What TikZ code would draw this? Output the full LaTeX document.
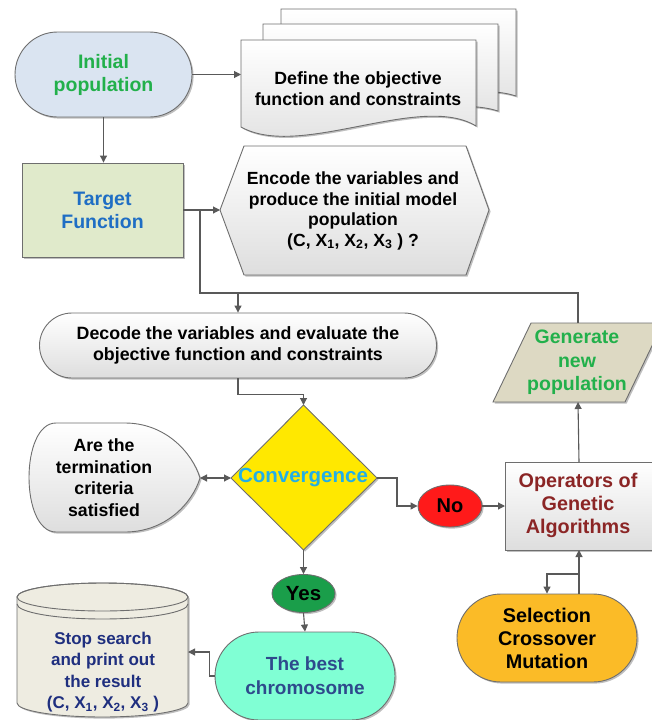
\documentclass[tikz,border=0pt]{standalone}
\usepackage{fontspec}
\setmainfont{Liberation Sans}
\usetikzlibrary{shapes.geometric,shapes.misc,arrows.meta,shadows,calc}
\definecolor{lnc}{HTML}{595959}
\definecolor{bdc}{HTML}{6E6E6E}
\definecolor{initblue}{HTML}{DAE4F1}
\definecolor{txgreen}{HTML}{22B04B}
\definecolor{tgtgreen}{HTML}{E0EACB}
\definecolor{txblue}{HTML}{1F6EC4}
\definecolor{genfill}{HTML}{DDD9C3}
\definecolor{diayel}{HTML}{FFE800}
\definecolor{txcyan}{HTML}{22AEE6}
\definecolor{nored}{HTML}{FF1A1A}
\definecolor{txred}{HTML}{8B2525}
\definecolor{yesgreen}{HTML}{1A9E4A}
\definecolor{bestaq}{HTML}{80FFD4}
\definecolor{txslate}{HTML}{2E4A8C}
\definecolor{cylfill}{HTML}{EEECE1}
\definecolor{txnavy}{HTML}{1F2F7F}
\definecolor{selor}{HTML}{FBBB27}
\newcommand\ftx{\fontsize{17.7}{21.5}\selectfont\bfseries}
\newcommand\fbig{\fontsize{19.5}{23}\selectfont\bfseries}
\tikzset{
  shp/.style={draw=bdc, line width=0.9pt},
  shd/.style={drop shadow={shadow xshift=1.6pt,shadow yshift=-1.6pt,opacity=0.25,fill=black}},
  grad/.style={top color=white, bottom color=black!13},
  lbl/.style={font=\ftx, align=center, inner sep=0pt},
  conn/.style={draw=lnc, line width=1.1pt, -{Triangle[length=7pt,width=7pt]}},
  plain/.style={draw=lnc, line width=1.1pt},
  dconn/.style={draw=lnc, line width=1.1pt, {Triangle[length=7pt,width=7pt]}-{Triangle[length=7pt,width=7pt]}}
}
\begin{document}
\begin{tikzpicture}[x=1pt,y=-1pt]
\useasboundingbox (0,0) rectangle (652,720);
% ---------- Initial population
\node[shp, shd, rounded rectangle, minimum width=177pt, minimum height=85pt, fill=initblue, text=txgreen, lbl, font=\fbig] (init) at (103.5,74.5) {Initial\\population};
% ---------- Document stack
\path[shp, shd, grad] (281,9) -- (516,9) -- (516,96) .. controls (460,78) and (340,118) .. (281,96) -- cycle;
\path[shp, shd, grad] (263,24) -- (498,24) -- (498,111) .. controls (442,93) and (322,133) .. (263,111) -- cycle;
\path[shp, shd, grad] (241,40) -- (476,40) -- (476,126) .. controls (420,92) and (300,160) .. (241,127) -- cycle;
\coordinate (docL) at (241,74.5);
\node[lbl, text=black] (doc) at (358,88.5) {Define the objective\\function and constraints};
% ---------- Target function
\node[shp, shd, rectangle, minimum width=161pt, minimum height=94pt, fill=tgtgreen, text=txblue, lbl, font=\fbig] (target) at (102.5,210) {Target\\Function};
% ---------- Hexagon
\path[shp, shd, grad] (220,210) -- (244,146) -- (466,146) -- (489,210) -- (466,275) -- (244,275) -- cycle;
\coordinate (hexL) at (220,210);
\node[lbl, text=black, font=\fontsize{17.6}{20.5}\selectfont\bfseries] (hex) at (353,211) {Encode the variables and\\produce the initial model\\population\\(C, X\textsubscript{1}, X\textsubscript{2}, X\textsubscript{3} ) ?};
% ---------- Decode
\node[shp, shd, rounded rectangle, minimum width=397pt, minimum height=65pt, grad, lbl, text=black, font=\fontsize{17.8}{21.5}\selectfont\bfseries] (dec) at (238,345.5) {Decode the variables and evaluate the\\objective function and constraints};
% ---------- Generate new population
\path[shp, shd, fill=genfill] (531,323) -- (663,323) -- (625,402) -- (493,402) -- cycle;
\coordinate (genT) at (578,323);
\coordinate (genB) at (578,402);
\node[lbl, text=txgreen, font=\fontsize{19.5}{23.5}\selectfont\bfseries] (gen) at (577,362.5) {Generate\\new\\population};
% ---------- Convergence diamond
\path[shp, shd, fill=diayel] (303.5,405) -- (377,478) -- (303.5,550) -- (231,478) -- cycle;
\coordinate (diaT) at (303.5,405);
\coordinate (diaL) at (231,478);
\coordinate (diaR) at (377,478);
\coordinate (diaB) at (303.5,550);
\node[lbl, text=txcyan, font=\fontsize{20.5}{24}\selectfont\bfseries] (conv) at (303,478) {Convergence};
% ---------- Termination criteria
\path[shp, shd, grad] (56,423) -- (125,423) .. controls (165,423) and (192,452) .. (200,478) .. controls (192,504) and (165,532) .. (125,532) -- (56,532) .. controls (20,532) and (20,423) .. (56,423) -- cycle;
\coordinate (termR) at (200,478);
\node[lbl, text=black] (term) at (104,477.5) {Are the\\termination\\criteria\\satisfied};
% ---------- No
\node[shp, shd, ellipse, minimum width=64pt, minimum height=42pt, fill=nored, lbl, text=black, font=\fontsize{20}{24}\selectfont\bfseries] (no) at (450,506) {No};
% ---------- Operators
\path[shp, shd, grad] (505,462) rectangle (662,550);
\coordinate (opsW) at (505,506);
\coordinate (opsT) at (579,462);
\coordinate (opsB) at (579,550);
\node[lbl, text=txred, font=\fontsize{19.8}{23}\selectfont\bfseries] (ops) at (578,505) {Operators of\\Genetic\\Algorithms};
% ---------- Yes
\node[shp, shd, ellipse, minimum width=63pt, minimum height=38pt, fill=yesgreen, lbl, text=black, font=\fontsize{20.5}{24}\selectfont\bfseries] (yes) at (303.5,593.5) {Yes};
% ---------- The best chromosome
\node[shp, shd, rounded rectangle, minimum width=180pt, minimum height=88pt, fill=bestaq, lbl, text=txslate, font=\fontsize{19}{24}\selectfont\bfseries] (best) at (305,676) {The best\\chromosome};
% ---------- Cylinder
\path[shp, shd, fill=cylfill] (17,597) -- (17,703) arc[start angle=180, end angle=0, x radius=85.5, y radius=14] -- (188,597) arc[start angle=0, end angle=-180, x radius=85.5, y radius=14] -- cycle;
\draw[shp] (102.5,597) ellipse[x radius=85.5, y radius=14];
\draw[shp] (17,604) arc[start angle=180, end angle=0, x radius=85.5, y radius=15];
\coordinate (cylR) at (188,652);
\node[lbl, text=txnavy, font=\fontsize{17}{21.5}\selectfont\bfseries] (cyl) at (103,672) {Stop search\\and print out\\the result\\(C, X\textsubscript{1}, X\textsubscript{2}, X\textsubscript{3} )};
% ---------- Selection
\node[shp, shd, rounded rectangle, minimum width=180pt, minimum height=88pt, fill=selor, lbl, text=black, font=\fontsize{19.8}{23}\selectfont\bfseries] (sel) at (547,638) {Selection\\Crossover\\Mutation};
% ---------- Connectors
\draw[conn] (init.east) -- (docL);
\draw[conn] (init.south) -- (init.south |- target.north);
\draw[conn] (target.east) -- (hexL);
\coordinate (br) at (200,210);
\coordinate (loopL) at (200,293);
\coordinate (decIn) at (238,293);
\draw[plain] (genT) |- (loopL) -- (br);
\draw[conn] (decIn) -- (dec.north);
\draw[conn] (dec.south) -- ++(0,16) -| (diaT);
\draw[dconn] (termR) -- (diaL);
\draw[conn] (diaR) -- ++(20,0) |- (no.west);
\draw[conn] (no.east) -- (opsW);
\draw[conn] (opsT) -- (genB);
\draw[conn] (diaB) -- (yes.north);
\draw[conn] (yes.south) -- (best.north);
\draw[conn] (best.west) -- ++(-5,0) |- (cylR);
\coordinate (selJ) at (579,574);
\draw[conn] (sel.north -| opsB) -- (opsB);
\draw[conn] (selJ) -| (sel.north);
\end{tikzpicture}
\end{document}
